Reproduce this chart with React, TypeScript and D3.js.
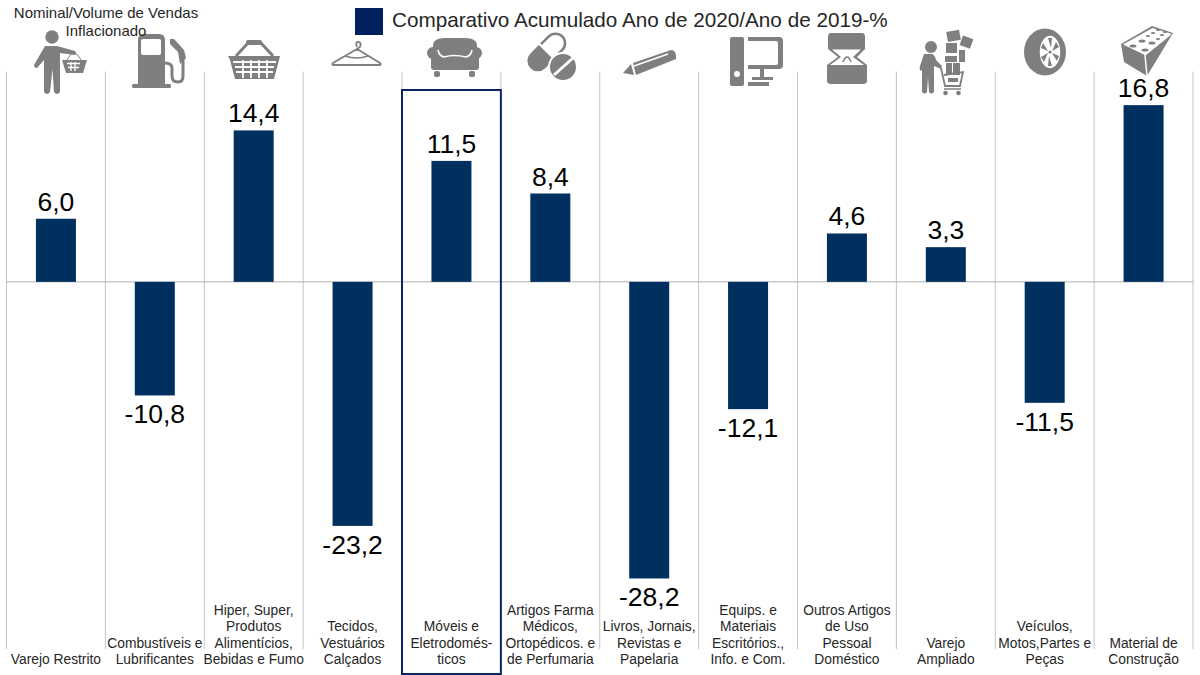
import React from 'react';
import * as d3 from 'd3';

const categories = [
  'Varejo Restrito',
  'Combustíveis e Lubrificantes',
  'Hiper, Super, Produtos Alimentícios, Bebidas e Fumo',
  'Tecidos, Vestuários Calçados',
  'Móveis e Eletrodomés-ticos',
  'Artigos Farma Médicos, Ortopédicos. e de Perfumaria',
  'Livros, Jornais, Revistas e Papelaria',
  'Equips. e Materiais Escritórios., Info. e Com.',
  'Outros Artigos de Uso Pessoal Doméstico',
  'Varejo Ampliado',
  'Veículos, Motos,Partes e Peças',
  'Material de Construção',
];
const categoryLines = [
  ['Varejo Restrito'],
  ['Combustíveis e', 'Lubrificantes'],
  ['Hiper, Super,', 'Produtos', 'Alimentícios,', 'Bebidas e Fumo'],
  ['Tecidos,', 'Vestuários', 'Calçados'],
  ['Móveis e', 'Eletrodomés-', 'ticos'],
  ['Artigos Farma', 'Médicos,', 'Ortopédicos. e', 'de Perfumaria'],
  ['Livros, Jornais,', 'Revistas e', 'Papelaria'],
  ['Equips. e', 'Materiais', 'Escritórios.,', 'Info. e Com.'],
  ['Outros Artigos', 'de Uso', 'Pessoal', 'Doméstico'],
  ['Varejo', 'Ampliado'],
  ['Veículos,', 'Motos,Partes e', 'Peças'],
  ['Material de', 'Construção'],
];
const values = [6.0, -10.8, 14.4, -23.2, 11.5, 8.4, -28.2, -12.1, 4.6, 3.3, -11.5, 16.8];
const highlighted = 'Móveis e Eletrodomés-ticos';
const legendLabel = 'Comparativo Acumulado Ano de 2020/Ano de 2019-%';
const noteLines = ['Nominal/Volume de Vendas', 'Inflacionado'];

const FONT = '"Liberation Sans", Arial, sans-serif';
const ICON = '#7f7f7f';
const BAR = '#00305f';
const NAVY = '#0b2463';

const x = d3.scaleBand<string>().domain(categories).range([6.5, 1193]);
const y = d3.scaleLinear().domain([-35, 20]).range([650, 71.5]);
const fmt = (v: number) => v.toFixed(1).replace('.', ',');

const brickHoles = [
  [1133, 46], [1145, 50], [1142, 41], [1152, 43], [1148, 36],
  [1158, 39], [1153, 33], [1162, 35], [1158, 30], [1165, 32],
];

const Icons = () => (
  <g fill={ICON} stroke="none">
    {/* pessoa com cesta */}
    <circle cx={52} cy={37} r={6.7} />
    <path d="M45 46 H57 L75 51 Q77 53 75 55 L60 53 L60 92 Q57 96 54 92 L52.5 69 L50 92 Q47 96 44 92 L44 60 L37 68 Q34 68 34 65 Z" />
    <path d="M62 60 H87 L83 73 H66 Z" />
    <path d="M67 60 Q74 46 81 60" fill="none" stroke={ICON} strokeWidth={1} />
    <path d="M67 63.5 H80 M68 67.5 H79 M71 62 V71 M75 62 V71" stroke="#fff" strokeWidth={1.3} fill="none" />
    {/* bomba */}
    <path d="M138 40 Q138 34 144 34 H159 Q165 34 165 40 V85 H138 Z" />
    <rect x={141} y={39} width={20} height={16} rx={2} fill="#fff" />
    <rect x={132} y={84} width={39} height={4} rx={1.5} />
    <path d="M183 56 V76 Q183 82 178 82 Q172 82 172 76 V68 Q172 63 165 63" fill="none" stroke={ICON} strokeWidth={3} />
    <path d="M170 39 L174 39 L184 50 L186 58 L180 64 L178 52 L170 44 Z" />
    {/* cesta */}
    <path d="M228 56 H280 L279 60 L274 79 H235 L230 60 Z" />
    <path d="M236 56 L248 43 H261 L273 56" fill="none" stroke={ICON} strokeWidth={3} />
    <rect x={246} y={40} width={16} height={5} rx={2} />
    <path d="M233 62 H276 M235 67 H274 M236 72 H273 M243 60 V78 M251 60 V78 M259 60 V78 M267 60 V78" stroke="#fff" strokeWidth={1.8} fill="none" />
    {/* cabide */}
    <path d="M357 47 Q355 42 358 42 Q362 42 360 47 L357 49 L333 63 Q331 65 334 65 H379 Q382 65 380 63 L357 49" fill="none" stroke={ICON} strokeWidth={1.8} />
    <path d="M345 56 Q357 60 368 56" fill="none" stroke={ICON} strokeWidth={1.5} />
    {/* sofá */}
    <path d="M433 56 V46 Q433 38 445 38 H465 Q477 38 477 46 V56 Z" />
    <rect x={431} y={52} width={48} height={18} rx={3} />
    <circle cx={433} cy={53} r={6} />
    <circle cx={476} cy={53} r={6} />
    <path d="M438 50 Q439 56 444 57 Q454 54 466 57 Q471 56 472 50" fill="none" stroke="#fff" strokeWidth={1.6} />
    <rect x={434} y={71} width={6} height={6} rx={2} />
    <rect x={469} y={71} width={6} height={6} rx={2} />
    {/* comprimidos */}
    <g transform="translate(546,52) rotate(-45)">
      <path d="M-12 -10 A10.5 10.5 0 0 0 -12 11 H0 V-10 Z" />
      <path d="M2 -9 H13 A9.5 9.5 0 0 1 13 10 H2" fill="none" stroke={ICON} strokeWidth={2.5} />
    </g>
    <circle cx={563} cy={67} r={14} stroke="#fff" strokeWidth={2} />
    <path d="M554 75 L573 58" stroke="#fff" strokeWidth={3} />
    {/* lápis */}
    <path d="M623 73 L631 64 L634 75 Z" />
    <path d="M633 63 L671 50 Q675 50 676 55 L676 59 L636 75 Z" />
    <path d="M634 66 L668 54" stroke="#fff" strokeWidth={1.5} fill="none" />
    {/* computador */}
    <rect x={730} y={37} width={14} height={49} rx={2} />
    <circle cx={737} cy={74} r={3} fill="#fff" />
    <path d="M748 37 H779 Q783 37 783 41 V65 Q783 69 779 69 H764 V77 H773 V80 H752 V77 H760 V69 H748 V65 H776 Q778 65 778 63 V43 Q778 41 776 41 H748 Z" />
    <rect x={748} y={82} width={21} height={4} />
    {/* estojo de joia */}
    <path d="M831 33 H862 Q865 33 865 37 V49 L857 57 L867 65 V81 Q867 84 863 84 H831 Q827 84 827 81 V65 L838 57 L828 49 V37 Q828 33 831 33 Z" />
    <path d="M832 49.5 H861 L853 57 L864 65 H830 L841 57 Z" fill="#fff" />
    <path d="M843 62 Q847 52 851 62" fill="none" stroke={ICON} strokeWidth={1.5} />
    {/* pessoa com carrinho */}
    <circle cx={931} cy={47} r={6} />
    <path d="M924 54 H932 Q935 55 936 60 L942 66 L941 69 L934 66 V92 Q931 95 929 92 L928 77 L927 92 Q925 95 922 92 V70 L921 71 Q919 70 920 66 Z" />
    <g transform="rotate(-10 953 36)"><rect x={947} y={31} width={13} height={10} /></g>
    <g transform="rotate(20 966 42)"><rect x={961} y={37} width={11} height={10} /></g>
    <rect x={946} y={43} width={11} height={10} />
    <rect x={945} y={56} width={12} height={6} />
    <rect x={959} y={50} width={6} height={12} />
    <rect x={946} y={63} width={6} height={12} />
    <rect x={953} y={63} width={7} height={12} />
    <path d="M941 68 L945 86 H960 L963 72 L944 75" fill="none" stroke={ICON} strokeWidth={1.8} />
    <rect x={948} y={78} width={10} height={4} />
    <path d="M944 89 H961" stroke={ICON} strokeWidth={1.5} />
    <circle cx={945.5} cy={93} r={2.3} />
    <circle cx={958.5} cy={93} r={2.3} />
    {/* pneu */}
    <ellipse cx={1045} cy={52} rx={21} ry={23.5} />
    <ellipse cx={1050} cy={52} rx={11} ry={17} fill="#fff" />
    <path d="M1048 38 L1052 38 L1051 48 Z M1056 42 L1059 47 L1052 51 Z M1059 56 L1057 61 L1052 53 Z M1052 66 L1048 66 L1049 56 Z M1044 62 L1041 57 L1048 53 Z M1041 48 L1043 43 L1048 51 Z" />
    <circle cx={1050} cy={52} r={1.6} />
    <ellipse cx={1050} cy={52} rx={11} ry={17} fill="none" stroke={ICON} strokeWidth={1.5} />
    {/* tijolo */}
    <path d="M1121 44 L1152 26 L1173 33 L1147 76 L1124 62 Z" />
    <path d="M1123 44.5 L1152.5 28 L1170.5 33.5 L1145 55 Z" fill="#fff" />
    <path d="M1145 55 L1147 76 M1145 55 L1171 34" stroke="#fff" strokeWidth={1.5} fill="none" />
    {brickHoles.map(([cx, cy]) => (
      <ellipse key={`${cx}-${cy}`} cx={cx} cy={cy} rx={cy > 40 ? 3.5 : 2.2} ry={cy > 40 ? 1.6 : 1.1} />
    ))}
  </g>
);

export default function App() {
  const step = x.step();
  const edges = [...categories.map((c) => x(c)!), 1193];
  const barW = 40;

  return (
    <svg width={1200} height={675} style={{ position: 'absolute', left: 0, top: 0 }} fontFamily={FONT}>
      <rect width={1200} height={675} fill="#fff" />

      {edges.map((e) => (
        <line key={e} x1={e} x2={e} y1={y(20)} y2={y(-35) - 1} stroke="#c4c4c4" strokeWidth={1} />
      ))}
      <line x1={6.5} x2={1193} y1={y(0)} y2={y(0)} stroke="#b0b0b0" strokeWidth={1} />

      {categories.map((c, i) => (
        <rect
          key={c}
          x={x(c)! + (step - barW) / 2}
          y={y(Math.max(values[i], 0))}
          width={barW}
          height={Math.abs(y(values[i]) - y(0))}
          fill={BAR}
        />
      ))}

      {categoryLines.map((lines, i) => {
        const cx = x(categories[i])! + step / 2;
        return (
          <text key={categories[i]} textAnchor="middle" fontSize={13.8} fill="#262626">
            {lines.map((l, k) => {
              const ly = 664 - (lines.length - 1 - k) * 16.3;
              return (
                <tspan key={l} x={cx} y={ly}>{l}</tspan>
              );
            })}
          </text>
        );
      })}

      {values.map((v, i) => (
        <text
          key={categories[i]}
          x={x(categories[i])! + step / 2}
          y={v >= 0 ? y(v) - 8 : y(v) + 28}
          textAnchor="middle"
          fontSize={26.5}
          fill="#000"
        >
          {fmt(v)}
        </text>
      ))}

      <rect
        x={x(highlighted)!}
        y={90}
        width={step}
        height={584}
        fill="none"
        stroke={NAVY}
        strokeWidth={2}
      />

      <Icons />

      <rect x={355} y={8} width={28} height={27} fill="#002060" />
      <text x={392} y={27} fontSize={20.7} fill="#262626">{legendLabel}</text>

      <text textAnchor="middle" fontSize={15} fill="#262626">
        <tspan x={106} y={18}>{noteLines[0]}</tspan>
        <tspan x={106} y={36}>{noteLines[1]}</tspan>
      </text>
    </svg>
  );
}
